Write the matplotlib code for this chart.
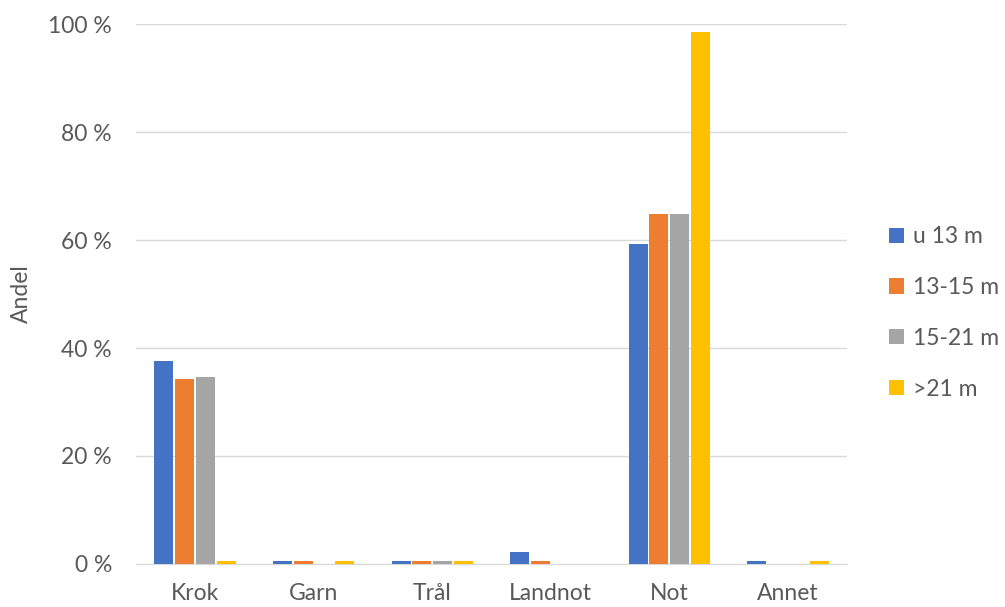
import matplotlib.pyplot as plt
import numpy as np

kategorier = ["Krok", "Garn", "Trål", "Landnot", "Not", "Annet"]
serier = ["u 13 m", "13-15 m", "15-21 m", ">21 m"]
u13 = [37.6, 0.5, 0.5, 2.2, 59.3, 0.5]
m13_15 = [34.3, 0.5, 0.5, 0.5, 64.8, 0.0]
m15_21 = [34.7, 0.0, 0.5, 0.0, 64.8, 0.0]
over21 = [0.5, 0.5, 0.5, 0.0, 98.5, 0.5]
farger = ["#4472C4", "#ED7D31", "#A5A5A5", "#FFC000"]

plt.rcParams['font.family'] = ['Lato', 'DejaVu Sans']
tekst = "#595959"

fig = plt.figure(figsize=(10.05, 6.07), dpi=100)
ax = fig.add_axes([0.135, 0.071, 0.708, 0.889])

x = np.arange(len(kategorier))
bredde = 0.16
steg = 0.175
for i, (verdier, navn) in enumerate(zip([u13, m13_15, m15_21, over21], serier)):
    ax.bar(x + (i - 1.5) * steg, verdier, bredde, color=farger[i], label=navn, zorder=3)

ax.set_xlim(-0.5, len(kategorier) - 0.5)
ax.set_ylim(0, 100)
ax.set_yticks(range(0, 101, 20))
ax.set_yticklabels([f"{v} %" for v in range(0, 101, 20)])
ax.set_xticks(x)
ax.set_xticklabels(kategorier)
ax.grid(axis='y', color="#D9D9D9", linewidth=1, zorder=0)
for s in ["top", "right", "left"]:
    ax.spines[s].set_visible(False)
ax.spines["bottom"].set_color("#D9D9D9")
ax.tick_params(length=0, labelsize=16.5, colors=tekst)
ax.tick_params(axis='y', pad=17)
ax.tick_params(axis='x', pad=14)
ax.set_ylabel("Andel", fontsize=16.5, color=tekst, labelpad=12)

ax.legend(loc="center left", bbox_to_anchor=(1.03, 0.465), frameon=False,
          fontsize=16.5, labelcolor=tekst, handlelength=0.65, handleheight=0.65,
          handletextpad=0.4, labelspacing=1.3)

fig.savefig("out.png", dpi=100)
